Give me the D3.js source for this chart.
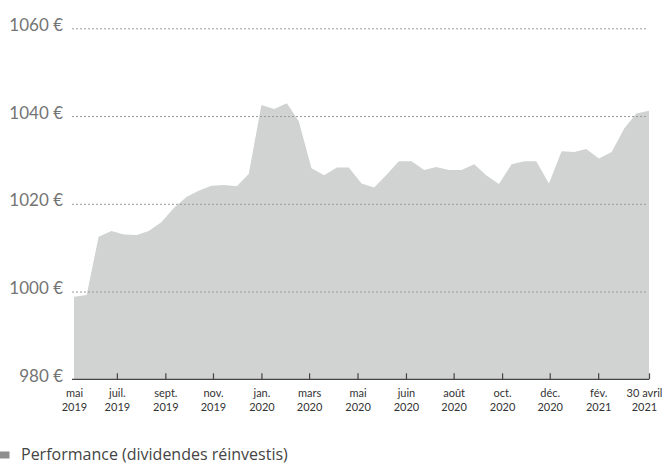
<!DOCTYPE html>
<html>
<head>
<meta charset="utf-8">
<script src="https://cdn.jsdelivr.net/npm/d3@7"></script>
<style>
  body { margin: 0; background: #fff; }
  svg { display: block; font-family: Lato, "Open Sans", sans-serif; }
</style>
</head>
<body>
<script>
// performance data, roughly every two weeks
let dates = [
  "2019-05-07", "2019-05-23", "2019-06-07", "2019-06-23", "2019-07-09", "2019-07-25",
  "2019-08-09", "2019-08-25", "2019-09-10", "2019-09-26", "2019-10-11", "2019-10-27",
  "2019-11-12", "2019-11-28", "2019-12-13", "2019-12-29", "2020-01-14", "2020-01-30",
  "2020-02-14", "2020-03-01", "2020-03-17", "2020-04-02", "2020-04-17", "2020-05-03",
  "2020-05-19", "2020-06-03", "2020-06-19", "2020-07-05", "2020-07-21", "2020-08-05",
  "2020-08-21", "2020-09-06", "2020-09-22", "2020-10-07", "2020-10-23", "2020-11-08",
  "2020-11-24", "2020-12-09", "2020-12-25", "2021-01-10", "2021-01-26", "2021-02-10",
  "2021-02-26", "2021-03-14", "2021-03-30", "2021-04-14", "2021-04-30"
]
let values = [
  998.8, 999.2, 1012.5, 1013.8, 1013.0, 1012.9,
  1013.8, 1015.8, 1019.1, 1021.6, 1023.0, 1024.1,
  1024.3, 1024.0, 1026.8, 1042.5, 1041.6, 1042.9,
  1038.8, 1028.1, 1026.5, 1028.3, 1028.3, 1024.6,
  1023.7, 1026.5, 1029.7, 1029.7, 1027.7, 1028.4,
  1027.7, 1027.7, 1029.0, 1026.5, 1024.5, 1029.0,
  1029.7, 1029.7, 1024.6, 1032.0, 1031.8, 1032.5,
  1030.3, 1031.8, 1037.2, 1040.6, 1041.2
]

let yTicks = [980, 1000, 1020, 1040, 1060]
let xTickDates = [
  "2019-05-07", "2019-06-30", "2019-08-30", "2019-10-29", "2019-12-29", "2020-02-27",
  "2020-04-28", "2020-06-28", "2020-08-27", "2020-10-27", "2020-12-26", "2021-02-25",
  "2021-04-30"
]
let xTickMonths = ["mai", "juil.", "sept.", "nov.", "jan.", "mars", "mai", "juin", "août", "oct.", "déc.", "fév.", "30 avril"]
let xTickYears = ["2019", "2019", "2019", "2019", "2020", "2020", "2020", "2020", "2020", "2020", "2020", "2021", "2021"]
let legendLabel = "Performance (dividendes réinvestis)"

let width = 662
let height = 464

const parse = d3.timeParse("%Y-%m-%d")
const data = dates.map((d, i) => ({ date: parse(d), value: values[i] }))

const svg = d3.select("body")
  .append("svg")
  .attr("width", width)
  .attr("height", height)

const x = d3.scaleTime()
  .domain([parse(dates[0]), parse(dates[dates.length - 1])])
  .range([74, 649])

const y = d3.scaleLinear()
  .domain([980, 1060])
  .range([379.3, 28.3])

// area
const area = d3.area()
  .x(d => x(d.date))
  .y0(y(980))
  .y1(d => y(d.value))

svg.append("path")
  .datum(data)
  .attr("fill", "#d1d2d2")
  .attr("d", area)

// dotted grid + y labels
const yAxis = svg.append("g")
  .attr("transform", "translate(72,0)")
  .call(d3.axisLeft(y)
    .tickValues(yTicks)
    .tickSize(-576)
    .tickPadding(9)
    .tickFormat(d => d + " €"))
yAxis.select(".domain").remove()
yAxis.selectAll(".tick line")
  .attr("stroke", "#9a9a9a")
  .attr("stroke-dasharray", "2,2")
  .filter(d => d === 980).remove()
yAxis.selectAll(".tick text")
  .attr("fill", "#747474")
  .attr("font-size", 17)
  .attr("font-family", "Lato, sans-serif")
  .attr("dy", "0.12em")

// x axis
const xAxis = svg.append("g")
  .attr("transform", `translate(0,${y(980)})`)
  .call(d3.axisBottom(x)
    .tickValues(xTickDates.map(parse))
    .tickSize(-6)
    .tickSizeOuter(0)
    .tickFormat(""))
xAxis.select(".domain").attr("stroke", "#444").attr("stroke-width", 1.3)
  .attr("d", "M72,0H649")
xAxis.selectAll(".tick line").attr("stroke", "#444").attr("stroke-width", 1.2)
xAxis.selectAll(".tick").filter((d, i) => i === 0).select("line").remove()

xAxis.selectAll(".tick text").remove()
const labels = xAxis.selectAll(".tick")
  .append("text")
  .attr("fill", "#333")
  .attr("font-size", 11)
  .attr("font-family", "Lato, sans-serif")
  .attr("text-anchor", "middle")
  .attr("transform", (d, i) => i === xTickDates.length - 1 ? "translate(-5,0)" : null)
labels.append("tspan")
  .attr("x", 0).attr("y", 18)
  .text((d, i) => xTickMonths[i])
labels.append("tspan")
  .attr("x", 0).attr("y", 32)
  .text((d, i) => xTickYears[i])

// legend
svg.append("rect")
  .attr("x", 0).attr("y", 451.5)
  .attr("width", 9.5).attr("height", 7)
  .attr("fill", "#8f8f8f")
svg.append("text")
  .attr("x", 21).attr("y", 459.8)
  .attr("fill", "#444")
  .attr("font-size", 16)
  .attr("font-family", "'Open Sans', sans-serif")
  .text(legendLabel)
</script>
</body>
</html>
